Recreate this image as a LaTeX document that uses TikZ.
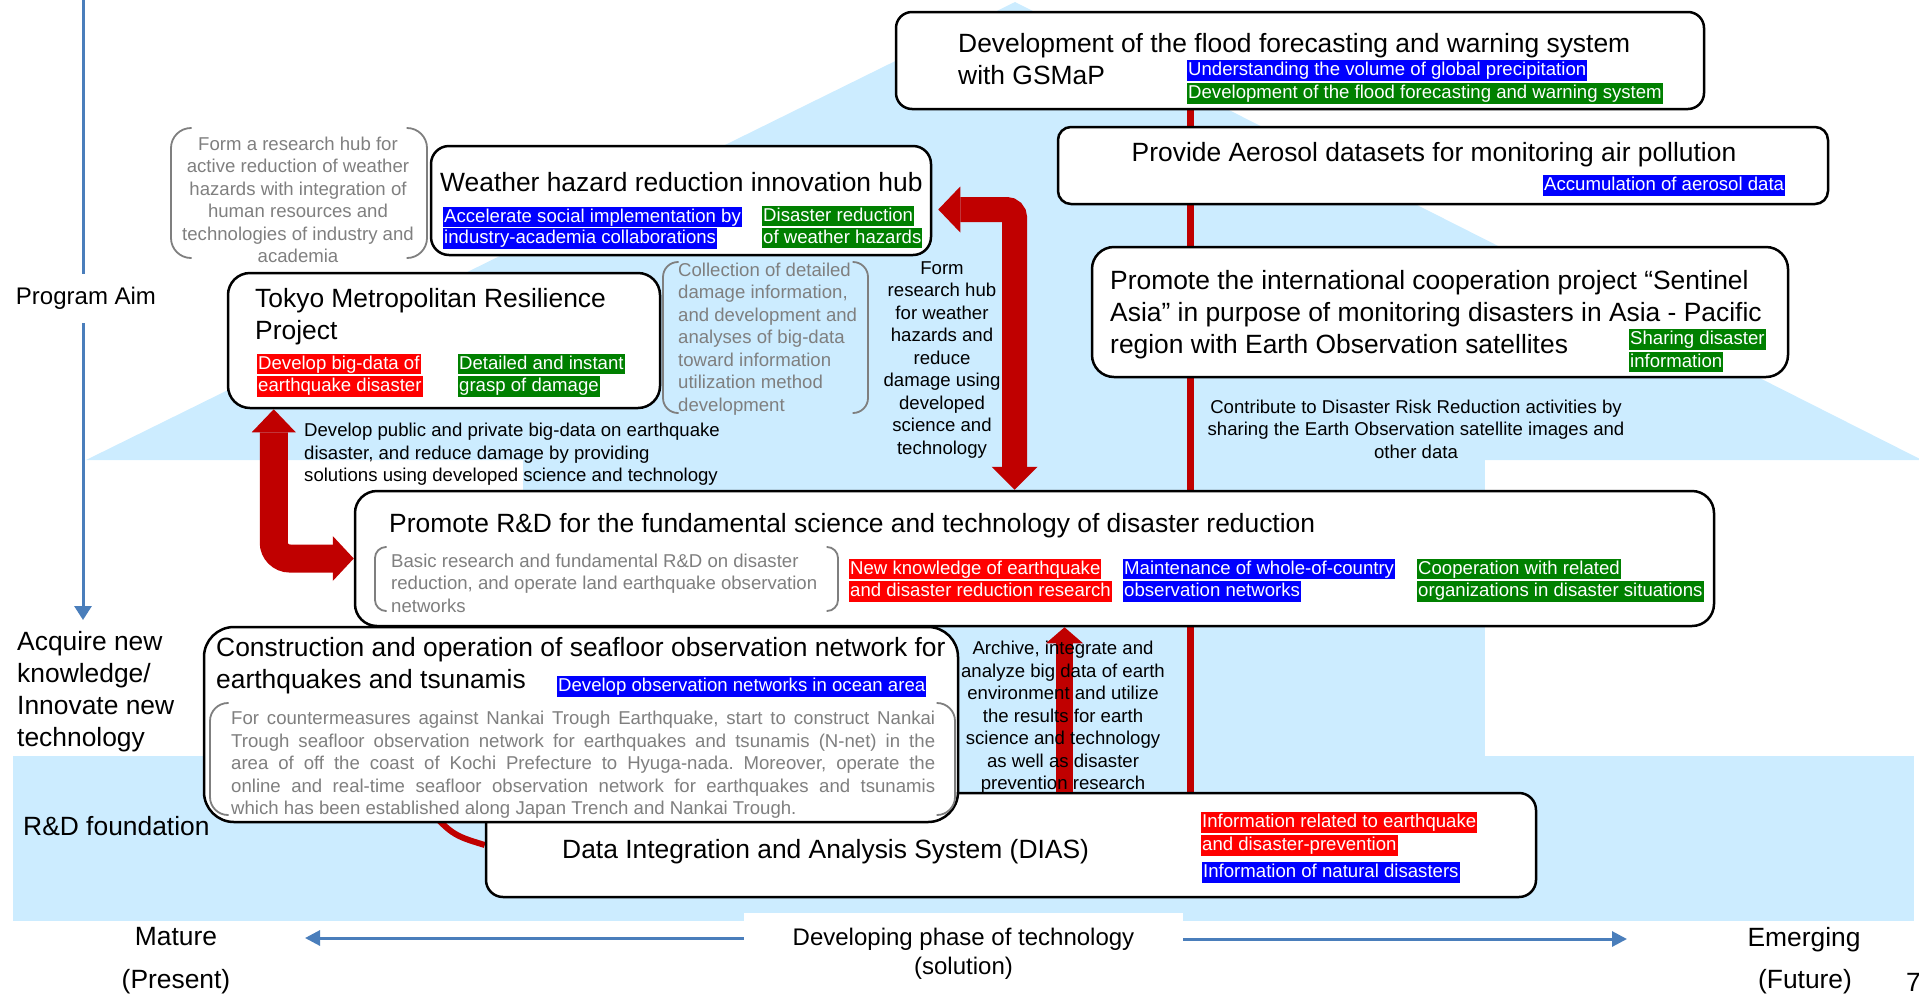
\documentclass[tikz,border=0pt]{standalone}
\usepackage{fontspec}
\setmainfont{Liberation Sans}
\usetikzlibrary{arrows.meta,calc}
\definecolor{lb}{RGB}{204,236,255}
\definecolor{axb}{RGB}{74,126,187}
\definecolor{dred}{RGB}{192,0,0}
\definecolor{gtext}{RGB}{127,127,127}
\definecolor{hlb}{RGB}{0,0,255}
\definecolor{hlg}{RGB}{0,128,0}
\definecolor{hlr}{RGB}{255,0,0}
\newcommand\fT{\fontsize{26.4}{32}\selectfont}
\newcommand\fL{\fontsize{18.6}{22.5}\selectfont}
\newcommand\fA{\fontsize{24}{29}\selectfont}
\newcommand\gbrk[5]{%
  \draw[brk, rounded corners=#5] (#1+#5+0.5,#2) -- (#1,#2) -- (#1,#4) -- (#1+#5+0.5,#4);
  \draw[brk, rounded corners=#5] (#3-#5-0.5,#2) -- (#3,#2) -- (#3,#4) -- (#3-#5-0.5,#4);}
\pgfdeclarelayer{bg}
\pgfdeclarelayer{ln}
\pgfsetlayers{bg,ln,main}
\frenchspacing
\begin{document}
\begin{tikzpicture}[x=1pt,y=-1pt,
  box/.style={draw=black, line width=2.5pt, fill=white, rectangle, inner sep=0pt},
  hl/.style={anchor=west, inner xsep=1pt, inner ysep=0pt, text height=15.5pt, text depth=5pt, font=\fL, text=white},
  gt/.style={font=\fL, text=gtext, inner sep=0pt},
  bt/.style={font=\fL, text=black, inner sep=0pt},
  tt/.style={font=\fT, inner sep=0pt, anchor=west, align=left},
  brk/.style={draw=gtext, line width=1.8pt},
  axis/.style={draw=axb, line width=3pt, -{Triangle[width=15pt,length=15pt]}},
  redthin/.style={draw=dred, line width=6pt}]
\useasboundingbox (0,0) rectangle (1919,994);

% ---- boxes
\node[box, minimum width=808, minimum height=97, rounded corners=16] (fl) at (1300,60.5) {};
\node[box, minimum width=770, minimum height=77, rounded corners=13] (ae) at (1443,165.5) {};
\node[box, minimum width=696, minimum height=130, rounded corners=22] (se) at (1440,312) {};
\node[box, minimum width=500, minimum height=109, rounded corners=18] (wh) at (681,200.5) {};
\node[box, minimum width=432, minimum height=135, rounded corners=22] (tk) at (444,340.5) {};
\node[box, minimum width=1359, minimum height=135, rounded corners=22] (pr) at (1034.5,558.5) {};
\node[box, minimum width=1050, minimum height=104, rounded corners=17] (di) at (1011,845) {};
\node[box, minimum width=754, minimum height=195, rounded corners=30] (sf) at (581,724.5) {};

% ---- background
\begin{pgfonlayer}{bg}
  \fill[lb] (86,460) -- (1015,2) -- (1922,460) -- cycle;
  \fill[lb] (523,459) rectangle (1485,757);
  \fill[lb] (13,756) rectangle (1914,921);
\end{pgfonlayer}

% ---- thin red connectors behind boxes
\begin{pgfonlayer}{ln}
  \coordinate (rl) at ([xshift=-110]fl.south);
  \draw[redthin, line width=7pt] (rl) -- (rl |- di.north);
  \coordinate (arcs) at (420,800);
  \draw[redthin] (arcs) .. controls (452,835) .. (di.west);
\end{pgfonlayer}

% ---- axes
\coordinate (vt) at (83,0);
\coordinate (vb) at (83,620);
\draw[draw=axb, line width=3pt, -{Triangle[width=17pt,length=14pt]}] (vt) -- (vb);
\node[font=\fA, fill=white, inner xsep=0pt, minimum height=49] (pa) at (86,298) {Program Aim};
\node[font=\fA, fill=white, minimum width=439, minimum height=81, align=center, inner sep=0pt] (dev) at (963.5,953.5) {Developing phase of technology\\(solution)};
\coordinate (la) at (305,938);
\coordinate (ra) at (1627,939);
\draw[axis] (dev.west |- la) -- (la);
\draw[axis] (dev.east |- ra) -- (ra);
\node[font=\fT, inner sep=0pt] (mat) at (176,937) {Mature};
\node[font=\fT, inner sep=0pt] (pres) at (176,982) {(Present)};
\node[font=\fT, inner sep=0pt] (emg) at (1804,940) {Emerging};
\node[font=\fT, inner sep=0pt] (fut) at (1805,982) {(Future)};
\node[font=\fT, inner sep=0pt, anchor=west] (pg) at (1906,982) {7};
\node[tt] (aq) at (17,692) {Acquire new\\knowledge/\\Innovate new\\technology};
\node[tt] (rd) at (23,826) {R\&D foundation};

% ---- titles
\node[tt] (flt) at (958,59) {Development of the flood forecasting and warning system\\with GSMaP};
\node[font=\fT, inner sep=0pt] (aet) at (1434,155) {Provide Aerosol datasets for monitoring air pollution};
\node[tt] (set) at (1110,315) {Promote the international cooperation project “Sentinel\\Asia” in purpose of monitoring disasters in Asia - Pacific\\region with Earth Observation satellites};
\node[tt] (wht) at (440,182) {Weather hazard reduction innovation hub};
\node[tt] (tkt) at (255,317) {Tokyo Metropolitan Resilience\\Project};
\node[tt] (prt) at (389,526) {Promote R\&D for the fundamental science and technology of disaster reduction};
\node[tt] (sft) at (216,666) {Construction and operation of seafloor observation network for\\earthquakes and tsunamis};
\node[tt] (dit) at (562,852) {Data Integration and Analysis System (DIAS)};

% ---- highlighted labels
\node[hl, fill=hlb] (fl1) at (1187,70.5) {Understanding the volume of global precipitation};
\node[hl, fill=hlg] (fl2) at (1187,93.5) {Development of the flood forecasting and warning system};
\node[hl, fill=hlb] (ae1) at (1543,185.5) {Accumulation of aerosol data};
\node[hl, fill=hlg] (se1) at (1629,339.5) {Sharing disaster\ };
\node[hl, fill=hlg] (se2) at (1629,362) {information};
\node[hl, fill=hlb] (wh1) at (443,217) {Accelerate social implementation by\ };
\node[hl, fill=hlb] (wh2) at (443,238.5) {industry-academia collaborations};
\node[hl, fill=hlg] (wh3) at (762,216) {Disaster reduction\ };
\node[hl, fill=hlg] (wh4) at (762,238) {of weather hazards};
\node[hl, fill=hlr] (tk1) at (257,364) {Develop big-data of\ };
\node[hl, fill=hlr] (tk2) at (257,386.5) {earthquake disaster};
\node[hl, fill=hlg] (tk3) at (458,364) {Detailed and instant\ };
\node[hl, fill=hlg] (tk4) at (458,386.5) {grasp of damage};
\node[hl, fill=hlr] (pr1) at (849,569) {New knowledge of earthquake\ };
\node[hl, fill=hlr] (pr2) at (849,591.5) {and disaster reduction research};
\node[hl, fill=hlb] (pr3) at (1123,569) {Maintenance of whole-of-country};
\node[hl, fill=hlb] (pr4) at (1123,591.5) {observation networks};
\node[hl, fill=hlg] (pr5) at (1417,569) {Cooperation with related\ };
\node[hl, fill=hlg] (pr6) at (1417,591.5) {organizations in disaster situations};
\node[hl, fill=hlb] (sf1) at (557,686.5) {Develop observation networks in ocean area};
\node[hl, fill=hlr] (di1) at (1201,822.5) {Information related to earthquake\ };
\node[hl, fill=hlr] (di2) at (1201,845.5) {and disaster-prevention};
\node[hl, fill=hlb] (di3) at (1202,872.5) {Information of natural disasters};

% ---- gray bracketed texts
\node[gt, align=center] (g1) at (298,200) {Form a research hub for\\active reduction of weather\\hazards with integration of\\human resources and\\technologies of industry and\\academia};
\gbrk{171}{128}{427}{258}{20}
\node[gt, align=left, anchor=west] (g2) at (678,339) {Collection of detailed\\damage information,\\and development and\\analyses of big-data\\toward information\\utilization method\\development};
\gbrk{663}{262}{868}{413}{15}
\node[gt, align=left, anchor=west] (g3) at (391,583) {Basic research and fundamental R\&D on disaster\\reduction, and operate land earthquake observation\\networks};
\gbrk{375}{547}{838}{611}{11}
\node[gt, anchor=west, text width=704, align=justify] (g4) at (231,765) {\hyphenpenalty=10000\exhyphenpenalty=10000\tolerance=9999\emergencystretch=20pt For countermeasures against Nankai Trough Earthquake, start to construct Nankai\linebreak Trough seafloor observation network for earthquakes and tsunamis (N-net) in the\linebreak area of off the coast of Kochi Prefecture to Hyuga-nada. Moreover, operate the\linebreak online and real-time seafloor observation network for earthquakes and tsunamis\linebreak which has been established along Japan Trench and Nankai Trough.};
\gbrk{210}{703}{955}{815}{18}

% ---- thick red arrows
\draw[draw=dred, line width=25pt, rounded corners=8,
  {Triangle[width=46pt,length=22pt,line width=0pt]}-{Triangle[width=46pt,length=23pt,line width=0pt]}]
  ([shift={(6,9)}]wh.east) -| ([xshift=-20]pr.north);
\draw[draw=dred, line width=28pt, rounded corners=16,
  {Triangle[width=44pt,length=23pt,line width=0pt]}-{Triangle[width=45pt,length=21pt,line width=0pt]}]
  ([xshift=47]tk.south west) |- (pr.west);
\coordinate (dx) at ([xshift=30]pr.south);
\draw[draw=dred, line width=17pt, -{Triangle[width=37pt,length=16pt,line width=0pt]}]
  (di.north -| dx) -- (dx);

% ---- black texts
\node[bt, align=left, anchor=west] (dp) at (304,454.5) {Develop public and private big-data on earthquake\\disaster, and reduce damage by providing\\solutions using developed science and technology};
\node[bt, align=center] (frh) at (942,360) {Form\\research hub\\for weather\\hazards and\\reduce\\damage using\\developed\\science and\\technology};
\node[bt, align=center] (ctb) at (1416,429) {Contribute to Disaster Risk Reduction activities by\\sharing the Earth Observation satellite images and\\other data};
\node[bt, align=center] (arch) at (1063,717.5) {Archive, integrate and\\analyze big data of earth\\environment and utilize\\the results for earth\\science and technology\\as well as disaster\\prevention research};
\end{tikzpicture}
\end{document}
